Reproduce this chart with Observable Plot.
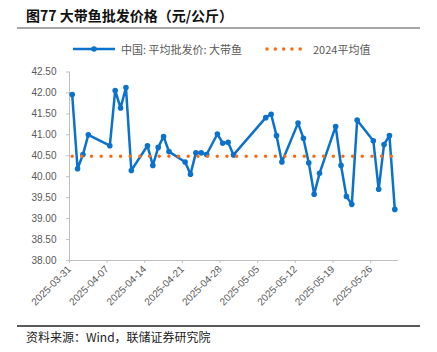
<!DOCTYPE html>
<html>
<head>
<meta charset="utf-8">
<script src="https://cdn.jsdelivr.net/npm/d3@7"></script>
<script src="https://cdn.jsdelivr.net/npm/@observablehq/plot@0.6"></script>
<style>
  html, body { margin: 0; padding: 0; background: #fff; }
  body { width: 437px; height: 352px; position: relative; overflow: hidden; font-family: "Noto Sans CJK SC", "Liberation Sans", sans-serif; }
  #title { position: absolute; left: 26px; top: 5px; font-size: 14px; font-weight: bold; color: #111; line-height: 20px; white-space: nowrap; }
  #topline { position: absolute; left: 17px; top: 27px; width: 403px; height: 2px; background: #a6a6a6; }
  .leg { position: absolute; top: 41px; height: 16px; font-size: 11px; line-height: 16px; color: #595959; white-space: nowrap; }
  .leg svg { position: absolute; top: 0; }
  #chart { position: absolute; left: 0; top: 60px; }
  #botline { position: absolute; left: 17px; top: 325px; width: 403px; height: 1.5px; background: #595959; }
  #caption { position: absolute; left: 26px; top: 329px; font-size: 12px; line-height: 16px; color: #222; white-space: nowrap; }
</style>
</head>
<body>
<div id="title">图77 大带鱼批发价格（元/公斤）</div>
<div id="topline"></div>
<div class="leg" style="left:72px;">
  <svg width="46" height="16"><line x1="1" y1="8" x2="43" y2="8" stroke="#0a72cc" stroke-width="2.5"/><circle cx="22" cy="8" r="2.8" fill="#0a72cc"/></svg>
  <span style="position:absolute;left:49px;top:0;">中国: 平均批发价: 大带鱼</span>
</div>
<div class="leg" style="left:265px;">
  <svg width="46" height="16"><line x1="2" y1="8" x2="43" y2="8" stroke="#f86c16" stroke-width="3.5" stroke-linecap="round" stroke-dasharray="0,8.3"/></svg>
  <span style="position:absolute;left:48px;top:0;">2024平均值</span>
</div>
<div id="chart"></div>
<div id="botline"></div>
<div id="caption">资料来源：Wind，联储证券研究院</div>
<script>
// ---- data ----
const dates = [
  "2025-03-31","2025-04-01","2025-04-02","2025-04-03",
  "2025-04-07","2025-04-08","2025-04-09","2025-04-10","2025-04-11",
  "2025-04-14","2025-04-15","2025-04-16","2025-04-17","2025-04-18",
  "2025-04-21","2025-04-22","2025-04-23","2025-04-24","2025-04-25",
  "2025-04-27","2025-04-28","2025-04-29","2025-04-30",
  "2025-05-06","2025-05-07","2025-05-08","2025-05-09",
  "2025-05-12","2025-05-13","2025-05-14","2025-05-15","2025-05-16",
  "2025-05-19","2025-05-20","2025-05-21","2025-05-22","2025-05-23",
  "2025-05-26","2025-05-27","2025-05-28","2025-05-29","2025-05-30"
];
const prices = [
  41.96, 40.19, 40.53, 41.00,
  40.74, 42.06, 41.64, 42.13, 40.15,
  40.74, 40.27, 40.70, 40.96, 40.60,
  40.35, 40.06, 40.57, 40.57, 40.53,
  41.02, 40.80, 40.82, 40.52,
  41.41, 41.49, 40.98, 40.35,
  41.28, 40.92, 40.33, 39.58, 40.08,
  41.20, 40.27, 39.53, 39.34, 41.35,
  40.86, 39.70, 40.77, 40.98, 39.22
];
const avg2024 = 40.49;
const xTickLabels = ["2025-03-31","2025-04-07","2025-04-14","2025-04-21","2025-04-28","2025-05-05","2025-05-12","2025-05-19","2025-05-26"];
const xRange = ["2025-03-31","2025-05-31"];
const yTicks = [38.0, 38.5, 39.0, 39.5, 40.0, 40.5, 41.0, 41.5, 42.0, 42.5];
const seriesName = "中国: 平均批发价: 大带鱼";
const avgName = "2024平均值";

// ---- build ----
const HALF_DAY = 12 * 3600 * 1000;
const parse = s => new Date(s + "T00:00:00Z");
const rows = dates.map((d, i) => ({date: parse(d), value: prices[i]}));
const avgRows = [dates[0], dates[dates.length - 1]].map(d => ({date: parse(d), value: avg2024}));
const xMid = d => new Date(+d.date + HALF_DAY);

const blue = "#0a72cc";
const orange = "#f86c16";

const chart = Plot.plot({
  width: 437,
  height: 255,
  marginLeft: 69,
  marginRight: 40,
  marginTop: 11.5,
  marginBottom: 55,
  style: {fontFamily: "'Liberation Sans', Arial, sans-serif", fontSize: "10px", background: "transparent", overflow: "visible"},
  x: {type: "utc", domain: xRange.map(parse)},
  y: {domain: [38, 42.5]},
  marks: [
    Plot.axisY({ticks: yTicks, tickFormat: d3.format(".2f"), tickSize: 3, tickPadding: 10, stroke: "#bfbfbf", fill: "#595959", label: null, fontSize: 10}),
    Plot.axisX({ticks: xTickLabels.map(parse), tickFormat: d3.utcFormat("%Y-%m-%d"), tickRotate: -45, tickSize: 3, tickPadding: 4, stroke: "#bfbfbf", fill: "#595959", label: null, fontSize: 10}),
    Plot.frame({anchor: "left", stroke: "#bfbfbf"}),
    Plot.frame({anchor: "bottom", stroke: "#bfbfbf"}),
    Plot.line(rows, {x: xMid, y: "value", stroke: blue, strokeWidth: 2.5}),
    Plot.dot(rows, {x: xMid, y: "value", r: 2.8, fill: blue, stroke: "none"}),
    Plot.line(avgRows, {x: xMid, y: "value", stroke: orange, strokeWidth: 3.5, strokeDasharray: "0,9.67", strokeLinecap: "round"})
  ]
});
document.getElementById("chart").appendChild(chart);
</script>
</body>
</html>
